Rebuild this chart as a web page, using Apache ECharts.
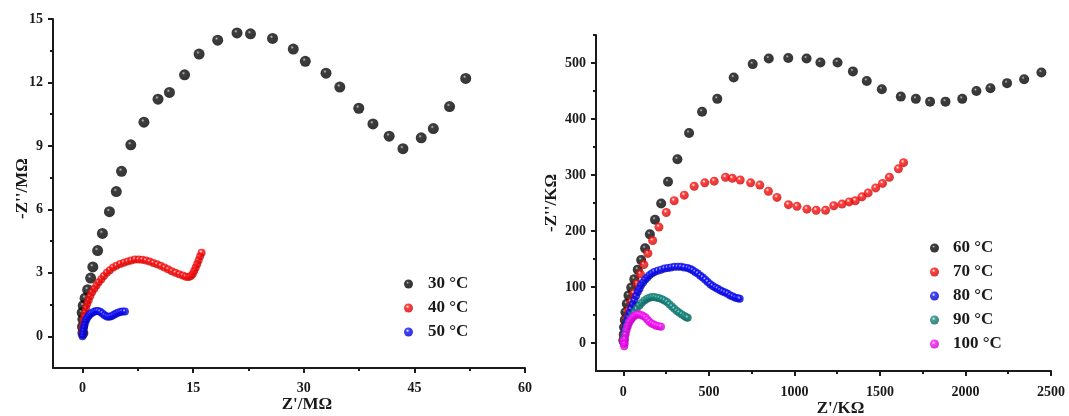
<!DOCTYPE html>
<html><head><meta charset="utf-8">
<script src="https://cdn.jsdelivr.net/npm/echarts@6/dist/echarts.min.js"></script>
<style>html,body{margin:0;padding:0;background:#fff}#c{width:1069px;height:416px}</style>
</head><body><div id="c"></div>
<script>
// ---- tick values ----
const leftXTicks = [0, 15, 30, 45, 60];
const leftXMinor = [7.5, 22.5, 37.5, 52.5];
const leftYTicks = [0, 3, 6, 9, 12, 15];
const leftYMinor = [1.5, 4.5, 7.5, 10.5, 13.5];
const rightXTicks = [0, 500, 1000, 1500, 2000, 2500];
const rightXMinor = [250, 750, 1250, 1750, 2250];
const rightYTicks = [0, 100, 200, 300, 400, 500];
const rightYMinor = [50, 150, 250, 350, 450, 550];

// ---- series names ----
const leftNames = ['30 °C', '40 °C', '50 °C'];
const rightNames = ['60 °C', '70 °C', '80 °C', '90 °C', '100 °C'];

// ---- left panel data: [Z' (MΩ), -Z'' (MΩ)] ----
const d30 = [[0.05,0.15],[0.0,0.45],[0.05,0.8],[-0.05,1.12],[0.1,1.45],[0.35,1.8],[0.7,2.2],[1.1,2.75],[1.4,3.28],[2.05,4.05],[2.7,4.86],[3.65,5.89],[4.58,6.84],[5.29,7.8],[6.55,9.05],[8.33,10.12],[10.24,11.21],[11.79,11.53],[13.84,12.36],[15.81,13.34],[18.33,14.0],[20.95,14.34],[22.78,14.3],[25.77,14.08],[28.58,13.58],[30.21,13.0],[33.02,12.44],[34.89,11.78],[37.46,10.78],[39.38,10.04],[41.58,9.46],[43.45,8.87],[45.93,9.38],[47.57,9.82],[49.77,10.86],[51.96,12.19]];
const d40 = [[0.0,0.15],[0.05,0.35],[0.1,0.55],[0.18,0.75],[0.25,0.95],[0.35,1.15],[0.5,1.35],[0.65,1.55],[0.85,1.72],[1.05,1.9],[1.3,2.08],[1.6,2.25],[1.9,2.4],[2.2,2.55],[2.55,2.7],[2.9,2.85],[3.3,3.0],[3.7,3.12],[4.15,3.25],[4.6,3.33],[5.1,3.42],[5.6,3.48],[6.1,3.53],[6.6,3.58],[7.1,3.63],[7.6,3.63],[8.1,3.62],[8.6,3.58],[9.1,3.53],[9.6,3.47],[10.1,3.4],[10.6,3.33],[11.1,3.25],[11.6,3.17],[12.1,3.08],[12.6,3.0],[13.1,2.93],[13.6,2.87],[14.0,2.82],[14.4,2.8],[14.7,2.85],[14.95,2.95],[15.15,3.1],[15.35,3.25],[15.55,3.42],[15.75,3.6],[15.95,3.78],[16.15,3.95]];
const d50 = [[0.0,0.0],[0.05,0.1],[0.1,0.25],[0.18,0.4],[0.28,0.55],[0.4,0.7],[0.55,0.82],[0.75,0.93],[0.95,1.02],[1.2,1.09],[1.5,1.15],[1.8,1.19],[2.1,1.2],[2.4,1.16],[2.7,1.08],[3.0,0.99],[3.3,0.93],[3.6,0.92],[3.9,0.95],[4.2,1.0],[4.5,1.06],[4.8,1.11],[5.1,1.15],[5.4,1.17],[5.75,1.17]];

// ---- right panel data: [Z' (KΩ), -Z'' (KΩ)] ----
const d60 = [[0,5],[2,15],[4,28],[8,41],[12,55],[20,70],[30,85],[46,99],[64,114],[84,131],[104,148],[127,169],[155,194],[185,220],[221,249],[261,288],[316,328],[384,375],[460,413],[549,436],[645,474],[756,498],[850,508],[964,509],[1071,508],[1152,501],[1252,501],[1342,485],[1423,468],[1511,453],[1622,440],[1710,436],[1793,431],[1883,431],[1981,436],[2064,450],[2146,455],[2243,464],[2343,471],[2444,483]];
const d70 = [[0,3],[3,14],[12,29],[21,44],[31,58],[45,73],[60,89],[80,106],[100,123],[120,140],[143,160],[171,183],[208,207],[251,233],[297,254],[356,264],[414,280],[476,286],[531,289],[597,296],[637,294],[683,291],[744,286],[798,282],[848,271],[898,260],[965,247],[1015,244],[1073,239],[1127,237],[1182,237],[1230,245],[1278,248],[1320,252],[1356,254],[1395,261],[1431,268],[1475,277],[1515,285],[1555,296],[1608,311],[1638,322]];
const d80 = [[0,2],[3,10],[6,17],[10,25],[16,32],[22,40],[29,47],[37,54],[45,61],[54,69],[64,76],[74,84],[84,91],[94,97],[103,103],[115,108],[127,113],[140,117],[152,121],[166,124],[181,127],[200,129],[220,131],[240,133],[259,134],[278,135],[298,136],[318,136],[337,136],[356,135],[376,134],[391,132],[405,130],[420,127],[435,124],[450,120],[464,117],[479,113],[493,109],[508,105],[522,102],[537,99],[551,97],[566,94],[580,92],[595,90],[610,88],[625,85],[640,83],[655,81],[669,80],[680,79]];
const d90 = [[0,2],[3,8],[6,14],[13,22],[21,29],[30,36],[41,42],[52,49],[64,55],[78,61],[94,67],[108,72],[123,76],[138,79],[152,81],[166,82],[181,82],[196,81],[211,80],[226,78],[240,76],[255,73],[269,69],[284,65],[298,61],[313,57],[327,54],[342,51],[357,48],[368,46],[376,45]];
const d100 = [[0,4],[2,-2],[5,-6],[8,0],[10,8],[14,16],[20,24],[27,31],[35,37],[45,42],[56,46],[68,49],[80,51],[92,51],[104,50],[116,48],[128,46],[140,42],[152,38],[165,35],[178,33],[192,31],[206,30],[220,29]];

const FONT = 'Liberation Serif';
const INK = '#1a1a1a';

function sphere(base, light, dark, hl) {
  return {
    type: 'radial', x: 0.4, y: 0.35, r: 0.7,
    colorStops: [
      { offset: 0, color: light },
      { offset: hl, color: base },
      { offset: 1, color: dark }
    ]
  };
}
const styles = {
  '30 °C': sphere('#0d0d0d', '#b8b8b8', '#000', 0.22),
  '40 °C': sphere('#ff1010', '#ffffff', '#c80000', 0.28),
  '50 °C': sphere('#1010ff', '#ffffff', '#0000b8', 0.28),
  '60 °C': sphere('#0d0d0d', '#b8b8b8', '#000', 0.22),
  '70 °C': sphere('#ff1010', '#ffffff', '#c80000', 0.28),
  '80 °C': sphere('#1010ff', '#ffffff', '#0000b8', 0.28),
  '90 °C': sphere('#168a82', '#d0f0ee', '#0a5a55', 0.28),
  '100 °C': sphere('#ff10ff', '#ffffff', '#c000c0', 0.28)
};

const plain = v => String(v);

function majorAxis(gridIndex, min, max, ticks, name, nameGap, margin, extra) {
  return Object.assign({
    gridIndex, type: 'value', min, max,
    axisLine: { show: true, onZero: false, lineStyle: { color: INK, width: 2 } },
    axisTick: { show: true, customValues: ticks, length: 5, lineStyle: { color: INK, width: 2 } },
    axisLabel: { customValues: ticks, formatter: plain, margin, fontFamily: FONT, fontWeight: 'bold', fontSize: 14, color: INK },
    splitLine: { show: false },
    name, nameLocation: 'middle', nameGap, nameMoveOverlap: false,
    nameTextStyle: { fontFamily: FONT, fontWeight: 'bold', fontSize: 17, color: INK }
  }, extra || {});
}
function minorAxis(gridIndex, min, max, ticks, position) {
  return {
    gridIndex, type: 'value', min, max, position,
    axisLine: { show: false, onZero: false },
    axisTick: { show: true, customValues: ticks, length: 3, lineStyle: { color: INK, width: 2 } },
    axisLabel: { show: false },
    splitLine: { show: false }
  };
}

function scat(name, data, xi, size) {
  return {
    name, type: 'scatter', data, xAxisIndex: xi, yAxisIndex: xi,
    symbol: 'circle', symbolSize: size,
    itemStyle: { color: styles[name] },
    emphasis: { disabled: true }
  };
}

const chart = echarts.init(document.getElementById('c'), null, { renderer: 'canvas' });
chart.setOption({
  animation: false,
  backgroundColor: '#fff',
  grid: [
    { left: 53, top: 19, width: 472, height: 349, outerBoundsMode: 'none', containLabel: false },
    { left: 596, top: 35, width: 455, height: 336, outerBoundsMode: 'none', containLabel: false }
  ],
  xAxis: [
    majorAxis(0, -4, 60, leftXTicks, "Z'/MΩ", 28, 13, { position: 'bottom', nameTextStyle: { fontFamily: FONT, fontWeight: 'bold', fontSize: 17, color: INK, padding: [0, 0, 0, 36] } }),
    majorAxis(1, -160, 2500, rightXTicks, "Z'/KΩ", 29, 14, { position: 'bottom', nameTextStyle: { fontFamily: FONT, fontWeight: 'bold', fontSize: 17, color: INK, padding: [0, 0, 0, 34] } }),
    minorAxis(0, -4, 60, leftXMinor, 'bottom'),
    minorAxis(1, -160, 2500, rightXMinor, 'bottom')
  ],
  yAxis: [
    majorAxis(0, -1.5, 15, leftYTicks, "-Z''/MΩ", 22, 10, { position: 'left', nameTextStyle: { fontFamily: FONT, fontWeight: 'bold', fontSize: 17, color: INK, padding: [0, 0, 0, 10] } }),
    majorAxis(1, -50, 550, rightYTicks, "-Z''/KΩ", 36, 10, { position: 'left' }),
    minorAxis(0, -1.5, 15, leftYMinor, 'left'),
    minorAxis(1, -50, 550, rightYMinor, 'left')
  ],
  legend: [
    {
      data: leftNames, orient: 'vertical', left: 399, top: 269,
      icon: 'circle', itemWidth: 9, itemHeight: 9, itemGap: 4,
      textStyle: { fontFamily: FONT, fontWeight: 'bold', fontSize: 17, color: INK, lineHeight: 20, padding: [0, 0, 0, 10] }
    },
    {
      data: rightNames, orient: 'vertical', left: 925, top: 233,
      icon: 'circle', itemWidth: 9, itemHeight: 9, itemGap: 4,
      textStyle: { fontFamily: FONT, fontWeight: 'bold', fontSize: 17, color: INK, lineHeight: 20, padding: [0, 0, 0, 9] }
    }
  ],
  series: [
    scat('30 °C', d30, 0, 11),
    scat('40 °C', d40, 0, 8),
    scat('50 °C', d50, 0, 8),
    scat('60 °C', d60, 1, 10),
    scat('70 °C', d70, 1, 9),
    scat('80 °C', d80, 1, 8),
    scat('90 °C', d90, 1, 8),
    scat('100 °C', d100, 1, 8)
  ]
});
</script></body></html>
